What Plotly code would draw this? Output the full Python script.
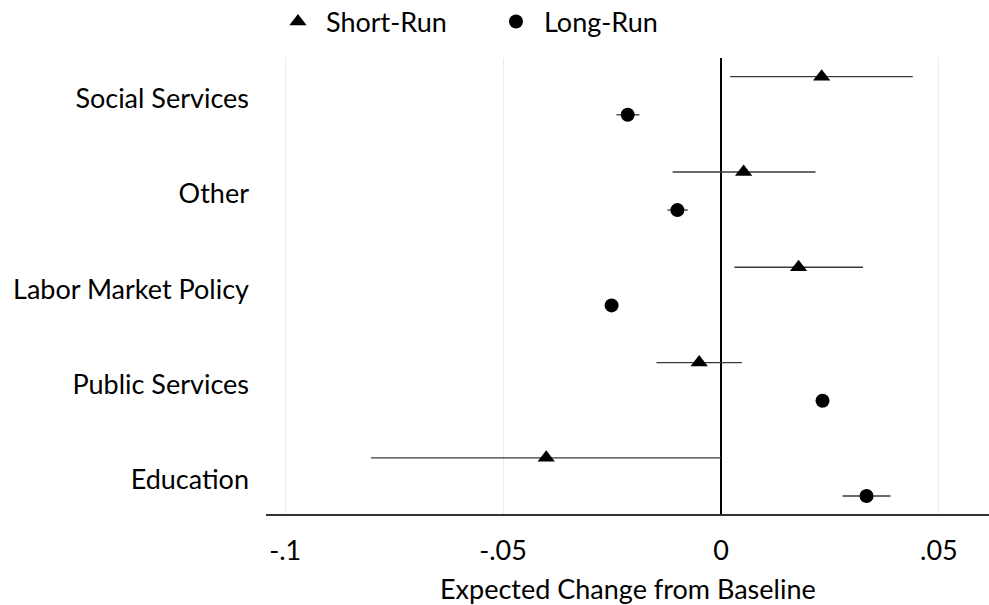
import plotly.graph_objects as go

# Policy areas, top to bottom
categories = ["Social Services", "Other", "Labor Market Policy", "Public Services", "Education"]

# Short-run estimates with 95% interval bounds
short_est = [0.0231, 0.0052, 0.0178, -0.0050, -0.0401]
short_lo = [0.0021, -0.0111, 0.0031, -0.0148, -0.0803]
short_hi = [0.0440, 0.0217, 0.0326, 0.0048, 0.0000]

# Long-run estimates with 95% interval bounds
long_est = [-0.0214, -0.0100, -0.0251, 0.0233, 0.0334]
long_lo = [-0.0240, -0.0123, -0.0259, 0.0225, 0.0279]
long_hi = [-0.0187, -0.0076, -0.0243, 0.0241, 0.0389]

x_ticks = [-0.1, -0.05, 0, 0.05]
x_tick_labels = ["-.1", "-.05", "0", ".05"]
x_title = "Expected Change from Baseline"

FONT = "Lato, 'Open Sans', sans-serif"
FS = 27
OFFSET = 0.2

pos = list(range(len(categories)))
y_short = [p - OFFSET for p in pos]
y_long = [p + OFFSET for p in pos]

fig = go.Figure()

fig.add_trace(go.Scatter(
    x=short_est, y=y_short, mode="markers", name="Short-Run",
    marker=dict(symbol="triangle-up", size=15, color="black"),
    error_x=dict(type="data", symmetric=False,
                 array=[h - e for h, e in zip(short_hi, short_est)],
                 arrayminus=[e - l for e, l in zip(short_est, short_lo)],
                 color="#3a3a3a", thickness=1.3, width=0),
))

fig.add_trace(go.Scatter(
    x=long_est, y=y_long, mode="markers", name="Long-Run",
    marker=dict(symbol="circle", size=14, color="black"),
    error_x=dict(type="data", symmetric=False,
                 array=[h - e for h, e in zip(long_hi, long_est)],
                 arrayminus=[e - l for e, l in zip(long_est, long_lo)],
                 color="#3a3a3a", thickness=1.3, width=0),
))

# x-axis title placed as a paper annotation for finer vertical control
fig.add_annotation(text=x_title, xref="paper", yref="paper", x=0.5, y=-0.163,
                   xanchor="center", yanchor="middle", showarrow=False,
                   font=dict(family=FONT, size=FS, color="black"))

fig.update_layout(
    width=989, height=605,
    margin=dict(l=266, r=0, t=58, b=91),
    paper_bgcolor="white", plot_bgcolor="white",
    font=dict(family=FONT, size=FS, color="black"),
    showlegend=True,
    legend=dict(orientation="h", x=0.0055, xanchor="left",
                yref="container", y=0.9636, yanchor="middle",
                font=dict(size=FS), itemwidth=46, bgcolor="rgba(0,0,0,0)",
                entrywidth=157, entrywidthmode="pixels"),
    xaxis=dict(
        range=[-0.1044, 0.0615], tickvals=x_ticks, ticktext=x_tick_labels,
        showgrid=True, gridcolor="#ececec", gridwidth=1,
        zeroline=True, zerolinecolor="black", zerolinewidth=2,
        showline=True, linecolor="#333333", linewidth=1.5,
        ticks="", ticklabelstandoff=12,
    ),
    yaxis=dict(
        range=[len(categories) - 1 + 0.389, -0.396],
        tickvals=pos, ticktext=categories,
        showgrid=False, zeroline=False, showline=False, ticks="",
        ticklabelstandoff=16, ticklabelshift=-3,
    ),
)

fig.write_html("out.html")
